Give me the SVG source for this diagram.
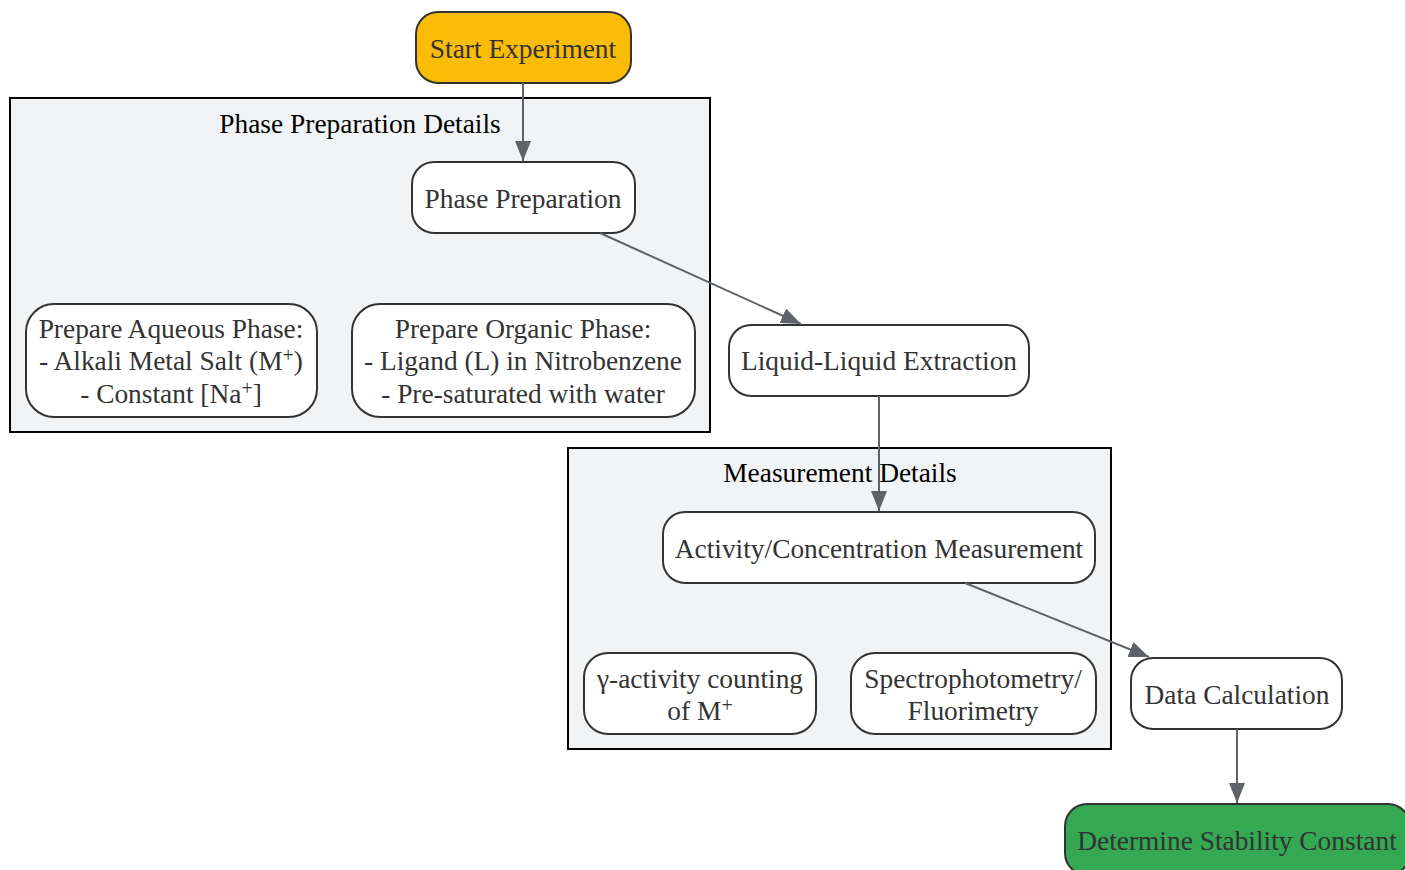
<svg xmlns="http://www.w3.org/2000/svg" width="1405" height="870" viewBox="0 0 1405 870">
<style>
text{font-family:"Liberation Serif","Times New Roman",serif;font-size:27.4px;fill:#333;text-anchor:middle}
.title{fill:#000}
.cluster{fill:#f1f3f5;stroke:#000;stroke-width:2}
.node{fill:#fff;stroke:#333;stroke-width:2}
.edge{stroke:#5f6368;stroke-width:2;fill:none;marker-end:url(#arr)}
.sup{font-size:20px}
</style>
<defs>
<marker id="arr" viewBox="0 0 20 16" refX="20" refY="8" markerWidth="20" markerHeight="16" markerUnits="userSpaceOnUse" orient="auto">
<path d="M0,0 L20,8 L0,16 z" fill="#5f6368"/>
</marker>
</defs>
<g id="cluster-phase">
<rect class="cluster" x="10" y="98" width="700" height="334"/>
<text class="title" x="360" y="133">Phase Preparation Details</text>
</g>
<g id="cluster-measure">
<rect class="cluster" x="568" y="448" width="543" height="301"/>
<text class="title" x="840" y="482">Measurement Details</text>
</g>
<g id="start">
<rect class="node" x="416" y="12" width="215" height="71" rx="22" style="fill:#fbbc05"/>
<text x="523" y="58">Start Experiment</text>
</g>
<g id="phaseprep">
<rect class="node" x="412" y="162" width="223" height="71" rx="22"/>
<text x="523" y="208">Phase Preparation</text>
</g>
<g id="aqueous">
<rect class="node" x="26" y="304" width="291" height="113" rx="28"/>
<text x="171" y="338">Prepare Aqueous Phase:</text>
<text x="171" y="370">- Alkali Metal Salt (M<tspan class="sup" dy="-8">+</tspan><tspan dy="8">)</tspan></text>
<text x="171" y="403">- Constant [Na<tspan class="sup" dy="-8">+</tspan><tspan dy="8">]</tspan></text>
</g>
<g id="organic">
<rect class="node" x="352" y="304" width="343" height="113" rx="28"/>
<text x="523" y="338">Prepare Organic Phase:</text>
<text x="523" y="370">- Ligand (L) in Nitrobenzene</text>
<text x="523" y="403">- Pre-saturated with water</text>
</g>
<g id="lle">
<rect class="node" x="729" y="325" width="300" height="71" rx="22"/>
<text x="879" y="370">Liquid-Liquid Extraction</text>
</g>
<g id="activity">
<rect class="node" x="663" y="512" width="432" height="71" rx="22"/>
<text x="879" y="558">Activity/Concentration Measurement</text>
</g>
<g id="gamma">
<rect class="node" x="584" y="653" width="232" height="81" rx="24"/>
<text x="700" y="688">γ-activity counting</text>
<text x="700" y="720">of M<tspan class="sup" dy="-8">+</tspan></text>
</g>
<g id="spectro">
<rect class="node" x="851" y="653" width="245" height="81" rx="24"/>
<text x="973" y="688">Spectrophotometry/</text>
<text x="973" y="720">Fluorimetry</text>
</g>
<g id="datacalc">
<rect class="node" x="1131" y="658" width="211" height="71" rx="22"/>
<text x="1237" y="704">Data Calculation</text>
</g>
<g id="determine">
<rect class="node" x="1065" y="804" width="345" height="71" rx="22" style="fill:#34a853"/>
<text x="1237" y="850">Determine Stability Constant</text>
</g>
<g id="connectors">
<path class="edge" d="M523,83 L523,161"/>
<path class="edge" d="M600,233 L801,324"/>
<path class="edge" d="M879,396 L879,511"/>
<path class="edge" d="M965,583 L1149,657"/>
<path class="edge" d="M1237,729 L1237,803"/>
</g>
</svg>
